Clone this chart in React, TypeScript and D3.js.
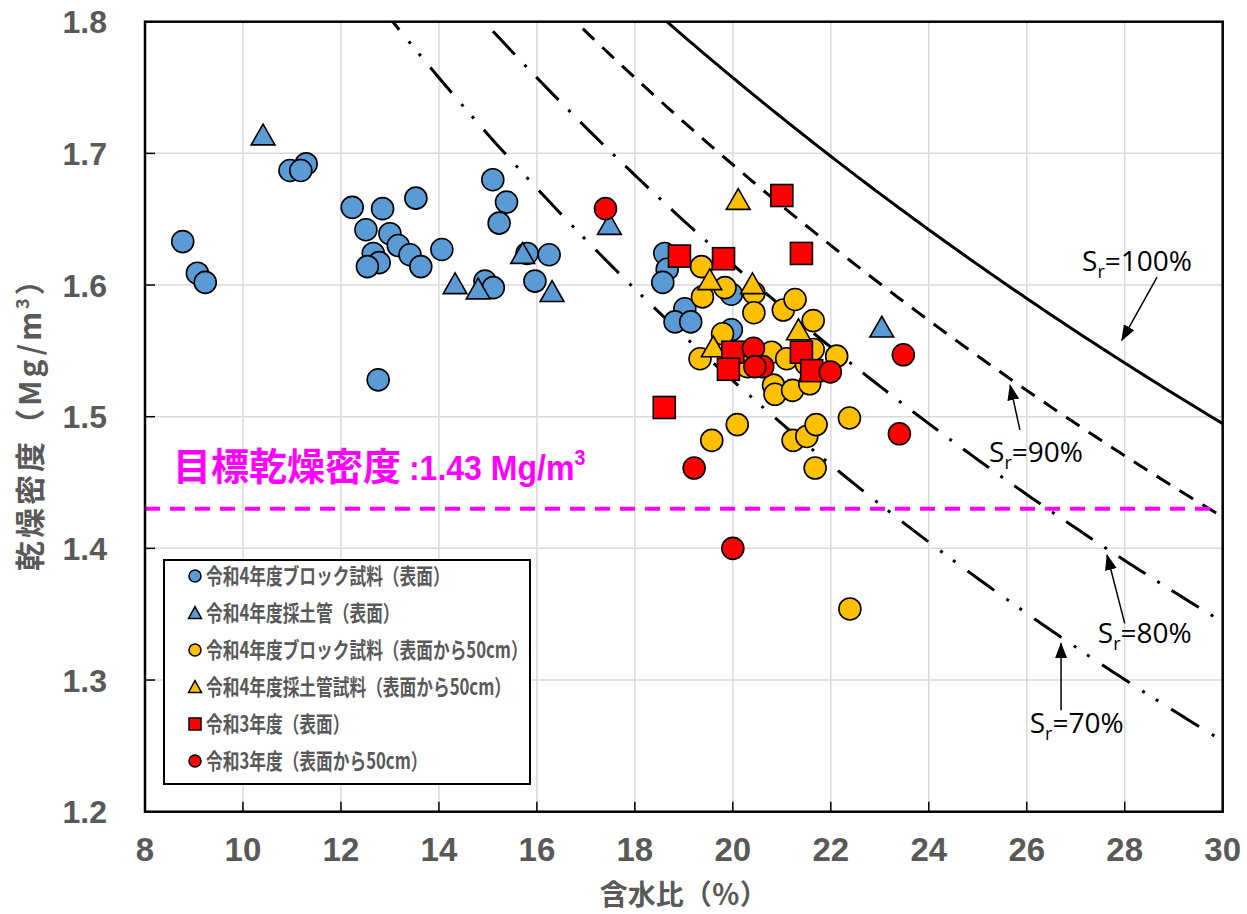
import React from 'react';
import * as d3 from 'd3';

const W = 1247;
const H = 914;
const PLOT = { left: 145, right: 1222.7, top: 21.7, bottom: 811.7 };

// axes
const xTicks = [8, 10, 12, 14, 16, 18, 20, 22, 24, 26, 28, 30];
const xTickLabels = ['8', '10', '12', '14', '16', '18', '20', '22', '24', '26', '28', '30'];
const yTicks = [1.2, 1.3, 1.4, 1.5, 1.6, 1.7, 1.8];
const yTickLabels = ['1.2', '1.3', '1.4', '1.5', '1.6', '1.7', '1.8'];

// soil particle density used for the saturation curves
const GS = 2.71;
const saturationLevels = [100, 90, 80, 70];
const saturationLabels = ['100%', '90%', '80%', '70%'];
const saturationDash = ['none', '16 11', '32 14 3 14', '33 15 3 13 3 15'];
// annotation anchors (data coords): [textW, textRho, fromW, fromRho, tipW, tipRho]
const saturationNotes = [
  [27.13, 1.611, 28.66, 1.606, 27.94, 1.558],
  [25.23, 1.4656, 25.86, 1.49, 25.66, 1.524],
  [27.45, 1.328, 28.0, 1.343, 27.64, 1.395],
  [26.06, 1.26, 26.7, 1.277, 26.7, 1.328],
];

const targetDensity = 1.43;

// series: [water content %, dry density Mg/m3]
const r4BlockSurface = [
  [8.77, 1.633], [9.07, 1.609], [9.23, 1.602], [10.96, 1.687], [11.29, 1.692], [11.18, 1.687],
  [12.23, 1.659], [12.85, 1.658], [13.53, 1.666], [12.51, 1.642], [13.0, 1.639], [13.17, 1.63],
  [12.66, 1.624], [12.78, 1.617], [12.54, 1.614], [13.41, 1.623], [13.63, 1.614], [14.06, 1.627],
  [15.1, 1.68], [15.38, 1.663], [15.23, 1.647], [14.94, 1.603], [15.11, 1.598], [15.8, 1.624],
  [16.25, 1.623], [15.96, 1.603], [12.76, 1.528], [18.61, 1.624], [18.66, 1.612], [18.57, 1.602],
  [19.02, 1.582], [18.82, 1.572], [19.14, 1.572], [19.97, 1.593], [19.97, 1.566],
];
const r4TubeSurface = [
  [10.41, 1.714], [14.33, 1.601], [14.8, 1.597], [15.71, 1.624], [16.31, 1.595], [17.48, 1.646], [23.04, 1.568],
];
const r4Block50 = [
  [19.36, 1.614], [19.38, 1.591], [19.84, 1.598], [20.43, 1.594], [20.43, 1.579], [21.03, 1.581],
  [21.27, 1.589], [21.64, 1.573], [19.79, 1.563], [19.33, 1.544], [20.14, 1.541], [20.3, 1.538],
  [20.79, 1.549], [21.1, 1.544], [21.5, 1.54], [21.64, 1.551], [22.12, 1.546], [20.83, 1.524],
  [20.86, 1.517], [21.22, 1.52], [21.57, 1.525], [20.09, 1.494], [19.57, 1.482], [21.23, 1.482],
  [21.51, 1.485], [21.7, 1.494], [22.38, 1.499], [21.68, 1.461], [22.39, 1.354],
];
const r4Tube50 = [
  [20.11, 1.665], [19.53, 1.604], [20.4, 1.601], [21.34, 1.566], [19.6, 1.553],
];
const r3Surface = [
  [21.0, 1.668], [21.4, 1.624], [18.91, 1.622], [19.81, 1.62], [20.0, 1.549], [19.91, 1.536],
  [21.4, 1.549], [21.61, 1.535], [18.6, 1.507],
];
const r3Depth50 = [
  [17.4, 1.658], [23.48, 1.547], [23.4, 1.487], [19.21, 1.461], [20.42, 1.552], [20.61, 1.538],
  [21.99, 1.534], [20.45, 1.538], [20.0, 1.4],
];

const seriesNames = [
  '令和4年度ブロック試料（表面）',
  '令和4年度採土管（表面）',
  '令和4年度ブロック試料（表面から50cm）',
  '令和4年度採土管試料（表面から50cm）',
  '令和3年度（表面）',
  '令和3年度（表面から50cm）',
];
const seriesData = [r4BlockSurface, r4TubeSurface, r4Block50, r4Tube50, r3Surface, r3Depth50];
const seriesShape = ['circle', 'triangle', 'circle', 'triangle', 'square', 'circle'];
const seriesColor = ['#5B9BD5', '#5B9BD5', '#FFC000', '#FFC000', '#FF0000', '#FF0000'];

const GRAY = '#595959';
const JP = '"Noto Sans CJK JP", sans-serif';
const AR = '"Liberation Sans", Arial, sans-serif';
const CAL = '"Open Sans", "Noto Sans", sans-serif';

function Marker({ shape, cx, cy, size, fill, sw }: any) {
  if (shape === 'circle') return <circle cx={cx} cy={cy} r={size / 2} fill={fill} stroke="#000" strokeWidth={sw} />;
  if (shape === 'square')
    return <rect x={cx - size / 2} y={cy - size / 2} width={size} height={size} fill={fill} stroke="#000" strokeWidth={sw} />;
  const h = size * 0.9;
  const w = size * 1.08;
  const p = `M${cx},${cy - h / 2 - 1}L${cx + w / 2},${cy + h / 2}L${cx - w / 2},${cy + h / 2}Z`;
  return <path d={p} fill={fill} stroke="#000" strokeWidth={sw} strokeLinejoin="miter" />;
}

export default function App() {
  const x = d3.scaleLinear().domain([8, 30]).range([PLOT.left, PLOT.right]);
  const y = d3.scaleLinear().domain([1.2, 1.8]).range([PLOT.bottom, PLOT.top]);

  // theoretical saturation curve: rho_d = rho_w / (w/Sr + 1/Gs), rho_w = 1
  const curvePath = (sr: number) => {
    const ws = d3.range(8, 30.001, 0.1);
    const gen = d3
      .line<number>()
      .x((w) => x(w))
      .y((w) => y(1 / (w / 100 / sr + 1 / GS)));
    return gen(ws) as string;
  };

  const legendX = 164;
  const legendY = 560;
  const legendW = 366;
  const legendH = 224;

  return (
    <svg width={W} height={H} style={{ position: 'absolute', left: 0, top: 0, background: '#fff' }}>
      <defs>
        <clipPath id="plotClip">
          <rect x={PLOT.left} y={PLOT.top} width={PLOT.right - PLOT.left} height={PLOT.bottom - PLOT.top} />
        </clipPath>
        <marker id="arrow" viewBox="0 0 16 12" refX="15" refY="6" markerWidth="16" markerHeight="12" markerUnits="userSpaceOnUse" orient="auto">
          <path d="M0,0 L16,6 L0,12 Z" fill="#000" />
        </marker>
      </defs>
      <rect x={0} y={0} width={W} height={H} fill="#fff" />

      {/* grid */}
      {xTicks.slice(1, -1).map((t) => (
        <line key={'gx' + t} x1={x(t)} x2={x(t)} y1={PLOT.top} y2={PLOT.bottom} stroke="#D9D9D9" strokeWidth={1.5} />
      ))}
      {yTicks.slice(1, -1).map((t) => (
        <line key={'gy' + t} x1={PLOT.left} x2={PLOT.right} y1={y(t)} y2={y(t)} stroke="#D9D9D9" strokeWidth={1.5} />
      ))}

      {/* saturation curves */}
      <g clipPath="url(#plotClip)">
        {saturationLevels.map((s, i) => (
          <path
            key={'sr' + s}
            d={curvePath(s / 100)}
            fill="none"
            stroke="#000"
            strokeWidth={3}
            strokeDasharray={saturationDash[i] === 'none' ? undefined : saturationDash[i]}
          />
        ))}
      </g>

      {/* target line */}
      <line
        x1={PLOT.left}
        x2={PLOT.right - 5}
        y1={y(targetDensity)}
        y2={y(targetDensity)}
        stroke="#FF00FF"
        strokeWidth={4}
        strokeDasharray="15 10"
      />
      <text x={x(8.57)} y={y(1.452)} fill="#FF00FF" fontFamily={JP} fontWeight="bold" fontSize={38}>
        目標乾燥密度
      </text>
      <g transform={`translate(${x(8.57) + 236}, ${y(1.452)}) scale(0.89, 1)`}>
        <text x={0} y={0} fill="#FF00FF" fontFamily={AR} fontWeight="bold" fontSize={36}>
          <tspan>:1.43 Mg/m</tspan>
          <tspan fontSize={22} dy={-15}>3</tspan>
        </text>
      </g>

      {/* points */}
      {seriesData.map((data, si) => (
        <g key={'s' + si}>
          {data.map((d, i) => (
            <Marker key={i} shape={seriesShape[si]} cx={x(d[0])} cy={y(d[1])} size={22} fill={seriesColor[si]} sw={1.6} />
          ))}
        </g>
      ))}

      {/* saturation annotations */}
      {saturationNotes.map((n, i) => (
        <g key={'note' + i}>
          <line x1={x(n[2])} y1={y(n[3])} x2={x(n[4])} y2={y(n[5])} stroke="#000" strokeWidth={1.5} markerEnd="url(#arrow)" />
          <text x={x(n[0])} y={y(n[1])} fontFamily={CAL} fontSize={28} fill="#000">
            <tspan>S</tspan>
            <tspan fontSize={18} dy={7}>r</tspan>
            <tspan dy={-7}>={saturationLabels[i]}</tspan>
          </text>
        </g>
      ))}

      {/* frame */}
      <rect x={PLOT.left} y={PLOT.top} width={PLOT.right - PLOT.left} height={PLOT.bottom - PLOT.top} fill="none" stroke="#000" strokeWidth={2.5} />
      {xTicks.slice(1, -1).map((t) => (
        <line key={'tx' + t} x1={x(t)} x2={x(t)} y1={PLOT.bottom} y2={PLOT.bottom - 10} stroke="#000" strokeWidth={1.5} />
      ))}
      {yTicks.slice(1, -1).map((t) => (
        <line key={'ty' + t} x1={PLOT.left} x2={PLOT.left + 10} y1={y(t)} y2={y(t)} stroke="#000" strokeWidth={1.5} />
      ))}

      {/* tick labels */}
      {xTicks.map((t, i) => (
        <text key={'lx' + t} x={x(t)} y={PLOT.bottom + 49} textAnchor="middle" fontFamily={AR} fontWeight="bold" fontSize={33} fill={GRAY}>
          {xTickLabels[i]}
        </text>
      ))}
      {yTicks.map((t, i) => (
        <text key={'ly' + t} x={107} y={y(t)} dy="0.36em" textAnchor="end" fontFamily={AR} fontWeight="bold" fontSize={32} fill={GRAY}>
          {yTickLabels[i]}
        </text>
      ))}

      {/* axis titles */}
      <text x={(PLOT.left + PLOT.right) / 2} y={905} textAnchor="middle" fontFamily={JP} fontWeight="bold" fontSize={28} fill={GRAY}>
        含水比（％）
      </text>
      <text
        transform={`translate(41, ${(PLOT.top + PLOT.bottom) / 2}) rotate(-90)`}
        textAnchor="middle"
        fontFamily={JP}
        fontWeight="bold"
        fontSize={30}
        letterSpacing={3}
        fill={GRAY}
      >
        <tspan>乾燥密度（Mg/m</tspan>
        <tspan fontSize={18} dy={-12}>3</tspan>
        <tspan dy={12}>）</tspan>
      </text>

      {/* legend */}
      <rect x={legendX} y={legendY} width={legendW} height={legendH} fill="#fff" stroke="#000" strokeWidth={2} />
      {seriesNames.map((name, i) => {
        const cy = legendY + 16 + i * 37;
        return (
          <g key={'leg' + i}>
            <Marker shape={seriesShape[i]} cx={legendX + 31} cy={cy} size={12} fill={seriesColor[i]} sw={1.5} />
            <g transform={`translate(${legendX + 42}, ${cy}) scale(0.76, 1)`}>
              <text x={0} y={0} dy="0.36em" fontFamily={JP} fontWeight="bold" fontSize={22} fill={GRAY}>
                {name}
              </text>
            </g>
          </g>
        );
      })}
    </svg>
  );
}
